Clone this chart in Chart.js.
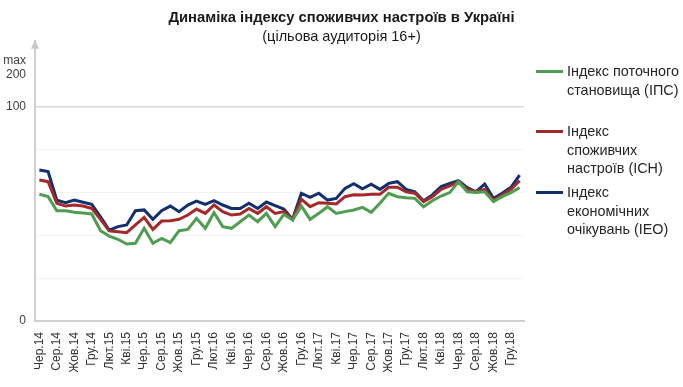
<!DOCTYPE html>
<html lang="uk">
<head>
<meta charset="UTF-8">
<title>Динаміка індексу споживчих настроїв в Україні</title>
<script src="https://cdn.jsdelivr.net/npm/chart.js"></script>
<style>
  html, body { margin: 0; padding: 0; background: #fff; }
  #wrap { position: relative; width: 683px; height: 387px; font-family: "Liberation Sans", Arial, sans-serif; }
  #legend { position: absolute; left: 536px; top: 0; }
  .item { position: absolute; left: 0; display: flex; align-items: flex-start; white-space: nowrap; }
  .swatch { width: 27px; height: 3px; margin-top: 8px; margin-right: 4px; }
  .text { font-size: 14.4px; line-height: 18.5px; color: #262626; }
</style>
</head>
<body>
<div id="wrap">
  <canvas id="chart" width="683" height="387"></canvas>
  <div id="legend"></div>
</div>
<script>
const titleText = 'Динаміка індексу споживчих настроїв в Україні';
const subtitleText = '(цільова аудиторія 16+)';

const months = [
  'Чер.14', 'Лип.14', 'Сер.14', 'Вер.14', 'Жов.14', 'Лис.14', 'Гру.14',
  'Січ.15', 'Лют.15', 'Бер.15', 'Кві.15', 'Тра.15', 'Чер.15', 'Лип.15', 'Сер.15', 'Вер.15', 'Жов.15', 'Лис.15', 'Гру.15',
  'Січ.16', 'Лют.16', 'Бер.16', 'Кві.16', 'Тра.16', 'Чер.16', 'Лип.16', 'Сер.16', 'Вер.16', 'Жов.16', 'Лис.16', 'Гру.16',
  'Січ.17', 'Лют.17', 'Бер.17', 'Кві.17', 'Тра.17', 'Чер.17', 'Лип.17', 'Сер.17', 'Вер.17', 'Жов.17', 'Лис.17', 'Гру.17',
  'Січ.18', 'Лют.18', 'Бер.18', 'Кві.18', 'Тра.18', 'Чер.18', 'Лип.18', 'Сер.18', 'Вер.18', 'Жов.18', 'Лис.18', 'Гру.18',
  'Січ.19'
];

// Індекс поточного становища
const ipsValues = [
  59.2, 58.1, 51.5, 51.5, 50.8, 50.5, 50.0,
  42.2, 39.7, 38.2, 36.0, 36.3, 43.3, 36.3, 38.6, 36.6, 42.2, 42.8, 48.0,
  43.3, 50.6, 44.1, 43.3, 46.4, 49.5, 46.4, 50.3, 44.1, 49.8, 47.2, 53.7,
  47.5, 50.3, 53.4, 50.3, 51.1, 51.9, 53.1, 50.8, 55.0, 59.7, 58.1, 57.6,
  57.3, 53.4, 56.2, 58.4, 60.0, 65.1, 60.4, 60.0, 60.4, 55.8, 58.1, 60.0,
  62.3
];

// Індекс споживчих настроїв
const ichValues = [
  65.9, 65.1, 55.0, 53.7, 54.2, 53.7, 52.6,
  47.5, 42.1, 41.7, 41.3, 44.9, 48.4, 42.8, 46.7, 46.9, 47.5, 49.5, 52.3,
  50.3, 54.2, 51.1, 49.5, 50.0, 52.6, 50.3, 53.4, 50.3, 51.1, 47.5, 56.9,
  53.4, 55.3, 55.0, 54.7, 58.1, 59.0, 58.9, 59.2, 59.2, 62.5, 62.5, 60.4,
  59.7, 55.8, 58.1, 61.5, 63.1, 65.1, 61.5, 60.4, 61.5, 56.5, 58.9, 61.5,
  65.6
];

// Індекс економічних очікувань
const ieoValues = [
  70.6, 69.8, 56.5, 55.3, 56.5, 55.5, 54.5,
  48.7, 42.5, 44.1, 44.9, 51.5, 51.9, 47.5, 51.5, 53.7, 51.1, 54.2, 56.0,
  54.5, 56.2, 54.2, 52.6, 52.6, 55.0, 52.6, 55.6, 53.9, 52.3, 47.5, 59.7,
  57.8, 59.7, 56.5, 57.3, 62.0, 64.2, 61.8, 63.9, 61.5, 64.3, 65.1, 61.5,
  60.4, 56.2, 58.9, 62.8, 64.3, 65.6, 62.3, 60.4, 64.0, 57.3, 59.7, 62.5,
  68.2
];

const seriesNames = [
  'Індекс поточного становища (ІПС)',
  'Індекс споживчих настроїв (ІСН)',
  'Індекс економічних очікувань (ІЕО)'
];
const legendLines = [
  ['Індекс поточного', 'становища (ІПС)'],
  ['Індекс', 'споживчих', 'настроїв (ІСН)'],
  ['Індекс', 'економічних', 'очікувань (ІЕО)']
];
const legendTops = [62, 122, 183];
const seriesColors = ['#4f9d50', '#a3292b', '#12306e'];

const yTicks = [0, 20, 40, 60, 80, 100];
const yShownLabels = [0, 100];
const maxMark = 118.5;              // position of the "max 200" mark on the broken axis
const maxMarkLabel = ['max', '200'];

const fontFamily = '"Liberation Sans", Arial, sans-serif';
Chart.defaults.font.family = fontFamily;

// arrow at the top of the y axis
const axisArrow = {
  id: 'axisArrow',
  afterDraw(chart) {
    const ctx = chart.ctx;
    const x = chart.scales.y.right;
    const top = chart.chartArea.top;
    ctx.save();
    ctx.fillStyle = '#c9c9c9';
    ctx.beginPath();
    ctx.moveTo(x, top - 1);
    ctx.lineTo(x - 4, top + 8);
    ctx.lineTo(x + 4, top + 8);
    ctx.closePath();
    ctx.fill();
    ctx.restore();
  }
};

const datasets = [ipsValues, ichValues, ieoValues].map((vals, i) => ({
  label: seriesNames[i],
  data: vals,
  borderColor: seriesColors[i],
  backgroundColor: seriesColors[i],
  borderWidth: 3,
  pointRadius: 0,
  tension: 0,
  fill: false
}));

new Chart(document.getElementById('chart'), {
  type: 'line',
  data: { labels: months, datasets: datasets },
  options: {
    responsive: false,
    animation: false,
    layout: { padding: 0 },
    plugins: {
      legend: { display: false },
      tooltip: { enabled: false },
      title: {
        display: true,
        text: titleText,
        color: '#1a1a1a',
        font: { size: 14.8, weight: 'bold' },
        padding: { top: 9, bottom: 2 }
      },
      subtitle: {
        display: true,
        text: subtitleText,
        color: '#1a1a1a',
        font: { size: 14.5 },
        padding: { top: 0, bottom: -5.5 }
      }
    },
    scales: {
      x: {
        offset: true,
        afterFit(scale) { scale.height = 66; },
        grid: { display: false },
        border: { color: '#cfcfcf', width: 2 },
        ticks: {
          autoSkip: false,
          minRotation: 90,
          maxRotation: 90,
          padding: 3,
          color: '#333',
          font: { size: 12 },
          callback: (v, i) => (i % 2 === 0 ? months[i] : '')
        }
      },
      y: {
        min: 0,
        max: 131,
        afterBuildTicks(scale) {
          scale.ticks = yTicks.concat([maxMark]).map(v => ({ value: v }));
        },
        afterFit(scale) { scale.width = 35; },
        border: { color: '#cfcfcf', width: 2 },
        grid: {
          drawTicks: false,
          color: c => {
            const v = c.tick ? c.tick.value : null;
            if (v === maxMark) return 'rgba(0,0,0,0)';
            if (v === 100) return '#d9d9d9';
            if (v === 0) return '#cfcfcf';
            return '#f3f3f3';
          },
          lineWidth: c => (c.tick && c.tick.value === 100 ? 1.5 : 1)
        },
        ticks: {
          padding: 9,
          color: '#404040',
          font: { size: 12 },
          callback: v => {
            if (v === maxMark) return maxMarkLabel;
            return yShownLabels.includes(v) ? String(v) : '';
          }
        }
      },
      // empty right-side box that keeps room for the legend
      yr: {
        position: 'right',
        display: true,
        grid: { display: false },
        border: { display: false },
        ticks: { display: false },
        afterFit(scale) { scale.width = 159; }
      }
    }
  },
  plugins: [axisArrow]
});

// legend to the right of the plot
const legendEl = document.getElementById('legend');
legendLines.forEach((lines, i) => {
  const item = document.createElement('div');
  item.className = 'item';
  item.style.top = legendTops[i] + 'px';
  const sw = document.createElement('div');
  sw.className = 'swatch';
  sw.style.background = seriesColors[i];
  const txt = document.createElement('div');
  txt.className = 'text';
  txt.innerHTML = lines.join('<br>');
  item.appendChild(sw);
  item.appendChild(txt);
  legendEl.appendChild(item);
});
</script>
</body>
</html>
